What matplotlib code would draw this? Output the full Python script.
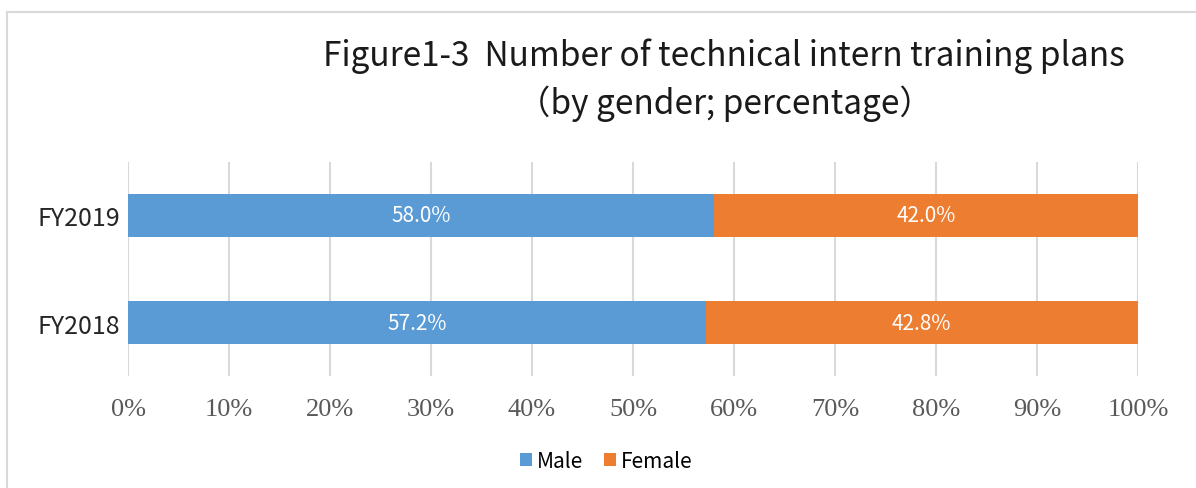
import numpy as np
import matplotlib.pyplot as plt
from matplotlib.lines import Line2D

# dados do grafico
anos = ["FY2018", "FY2019"]
homens = [57.2, 58.0]
mulheres = [42.8, 42.0]
series = ["Male", "Female"]
xticks = [0, 10, 20, 30, 40, 50, 60, 70, 80, 90, 100]

azul = "#5B9BD5"
laranja = "#ED7D31"
fonte = ["Noto Sans CJK JP", "DejaVu Sans"]

plt.rcParams['font.family'] = fonte

fig = plt.figure(figsize=(11.96, 4.89), dpi=100)
ax = fig.add_axes([128/1196, 1 - 377/489, (1138 - 128)/1196, (377 - 163)/489])

y = np.arange(len(anos))
b1 = ax.barh(y, homens, height=0.4, color=azul, label=series[0])
b2 = ax.barh(y, mulheres, left=homens, height=0.4, color=laranja, label=series[1])

for barras, vals in [(b1, homens), (b2, mulheres)]:
    for r, v in zip(barras, vals):
        ax.text(r.get_x() + r.get_width()/2, r.get_y() + r.get_height()/2,
                "%.1f%%" % v, ha="center", va="center", color="white", fontsize=15)

ax.set_xlim(0, 100)
ax.set_ylim(-0.5, 1.5)
ax.set_xticks(xticks)
ax.set_xticklabels(["%d%%" % t for t in xticks], family="Liberation Serif",
                   fontsize=19, color="#595959")
ax.set_yticks(y)
ax.set_yticklabels(anos, fontsize=18, color="#262626")
ax.tick_params(axis="both", length=0)
ax.tick_params(axis="x", pad=16)
ax.tick_params(axis="y", pad=6)
ax.grid(axis="x", color="#D9D9D9", linewidth=1.5)
ax.set_axisbelow(True)
for s in ax.spines.values():
    s.set_visible(False)

fig.text(0.605, 1 - 56/489, "Figure1-3  Number of technical intern training plans",
         ha="center", va="center", fontsize=24, color="#1a1a1a")
fig.text(0.606, 1 - 104/489, "（by gender; percentage）",
         ha="center", va="center", fontsize=24, color="#1a1a1a")

handles, labels = ax.get_legend_handles_labels()
fig.legend(handles, labels, loc="center", bbox_to_anchor=(606/1196, 1 - 462/489),
           ncol=2, frameon=False, fontsize=15, handlelength=0.6, handleheight=0.6,
           handletextpad=0.2, columnspacing=1.0)

# moldura do grafico
fig.add_artist(Line2D([7/1196, 1], [1 - 13/489, 1 - 13/489], color="#D9D9D9", lw=1.5))
fig.add_artist(Line2D([7/1196, 7/1196], [0, 1 - 13/489], color="#D9D9D9", lw=1.5))

fig.savefig("out.png", dpi=100)
